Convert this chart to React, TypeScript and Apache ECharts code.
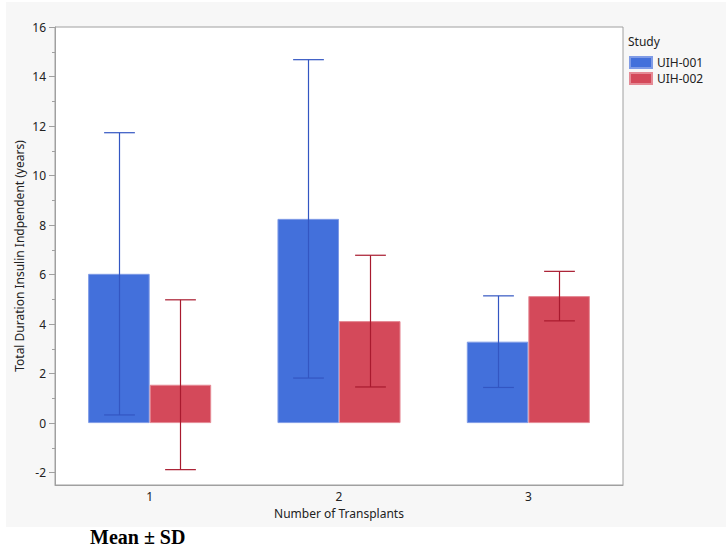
import React, { useEffect, useRef } from "react";
import * as echarts from "echarts";

const categories = ["1", "2", "3"];
const studies = ["UIH-001", "UIH-002"];
const meanUIH001 = [6.03, 8.25, 3.29];
const sdUIH001 = [5.7, 6.43, 1.85];
const meanUIH002 = [1.55, 4.12, 5.13];
const sdUIH002 = [3.43, 2.66, 1.0];
const majorTicks = [-2, 0, 2, 4, 6, 8, 10, 12, 14, 16];
const minorTicks = [-1, 1, 3, 5, 7, 9, 11, 13, 15];

const FONT = "'Noto Sans', 'Open Sans', sans-serif";
const BAR_CAT_GAP = 0.35;
const barColors = ["#4370DB", "#D4495A"];
const barBorders = ["#7f9be6", "#e58a95"];
const errColors = ["#3356c2", "#a81a2e"];

function errorSeries(idx: number, means: number[], sds: number[]) {
  return {
    type: "custom",
    name: studies[idx] + " SD",
    z: 5,
    silent: true,
    data: categories.map((_, i) => [i, means[i] - sds[i], means[i] + sds[i]]),
    renderItem: (params: any, api: any) => {
      const x = api.value(0);
      const lo = api.coord([x, api.value(1)]);
      const hi = api.coord([x, api.value(2)]);
      const band = api.size([1, 0])[0];
      const barW = (band * (1 - BAR_CAT_GAP)) / 2;
      const cx = Math.round(lo[0] + (idx === 0 ? -1 : 1) * (barW / 2)) + 0.5;
      const cap = barW / 4;
      const style = { stroke: errColors[idx], lineWidth: 1.2 };
      return {
        type: "group",
        children: [
          { type: "line", shape: { x1: cx, y1: lo[1], x2: cx, y2: hi[1] }, style },
          { type: "line", shape: { x1: cx - cap, y1: lo[1], x2: cx + cap, y2: lo[1] }, style },
          { type: "line", shape: { x1: cx - cap, y1: hi[1], x2: cx + cap, y2: hi[1] }, style },
        ],
      };
    },
  };
}

export default function App() {
  const ref = useRef<HTMLDivElement>(null);
  useEffect(() => {
    if (!ref.current) return;
    const chart = echarts.init(ref.current, undefined, { renderer: "svg" });
    const axisGray = "#a0a0a0";
    const textColor = "#222";
    chart.setOption({
      animation: false,
      backgroundColor: "#ffffff",
      textStyle: { fontFamily: FONT },
      grid: {
        left: 55,
        top: 27,
        right: 103,
        bottom: 65,
        show: true,
        backgroundColor: "#ffffff",
        borderColor: axisGray,
        borderWidth: 1,
      },
      legend: {
        orient: "vertical",
        left: 629,
        top: 56,
        padding: 0,
        itemWidth: 22,
        itemHeight: 11,
        itemGap: 3,
        icon: "rect",
        data: studies,
        textStyle: { fontSize: 12, color: textColor, fontFamily: FONT, lineHeight: 13 },
      },
      graphic: [
        {
          type: "rect",
          z: -10,
          shape: { x: 6, y: 2, width: 720, height: 525 },
          style: { fill: "#f7f7f7" },
        },
        {
          type: "text",
          left: 628,
          top: 35,
          style: { text: "Study", fontSize: 12, fill: textColor, fontFamily: FONT },
        },
        {
          type: "text",
          left: 90,
          top: 527,
          style: {
            text: "Mean ± SD",
            fontSize: 20,
            fontWeight: "bold",
            fill: "#000",
            fontFamily: "'Liberation Serif', 'Times New Roman', serif",
          },
        },
      ],
      xAxis: {
        type: "category",
        data: categories,
        name: "Number of Transplants",
        nameLocation: "middle",
        nameGap: 22,
        nameMoveOverlap: false,
        nameTextStyle: { fontSize: 12, color: textColor, fontFamily: FONT },
        axisLine: { show: true, onZero: false, lineStyle: { color: axisGray } },
        axisTick: { show: false },
        axisLabel: { fontSize: 12, color: textColor, margin: 5, fontFamily: FONT },
        splitLine: { show: false },
      },
      yAxis: [
        {
          type: "value",
          min: -2.5,
          max: 16,
          name: "Total Duration Insulin Indpendent (years)",
          nameLocation: "middle",
          nameGap: 30,
          nameMoveOverlap: false,
          nameTextStyle: { fontSize: 12, color: textColor, fontFamily: FONT },
          axisLine: { show: true, lineStyle: { color: axisGray } },
          axisTick: { show: true, length: 6, customValues: majorTicks, lineStyle: { color: axisGray } },
          axisLabel: { fontSize: 12, color: textColor, margin: 9, customValues: majorTicks, fontFamily: FONT },
          splitLine: { show: false },
        },
        {
          type: "value",
          min: -2.5,
          max: 16,
          position: "left",
          axisLine: { show: false },
          axisTick: { show: true, length: 3, customValues: minorTicks, lineStyle: { color: axisGray } },
          axisLabel: { show: false },
          splitLine: { show: false },
        },
      ],
      series: [
        {
          type: "bar",
          name: studies[0],
          data: meanUIH001,
          barGap: "0%",
          barCategoryGap: "35%",
          itemStyle: { color: barColors[0], borderColor: barBorders[0], borderWidth: 1 },
        },
        {
          type: "bar",
          name: studies[1],
          data: meanUIH002,
          barGap: "0%",
          barCategoryGap: "35%",
          itemStyle: { color: barColors[1], borderColor: barBorders[1], borderWidth: 1 },
        },
        errorSeries(0, meanUIH001, sdUIH001),
        errorSeries(1, meanUIH002, sdUIH002),
      ],
    });
    return () => chart.dispose();
  }, []);
  return (
    <div
      ref={ref}
      style={{ position: "absolute", left: 0, top: 0, width: 726, height: 550 }}
    />
  );
}
